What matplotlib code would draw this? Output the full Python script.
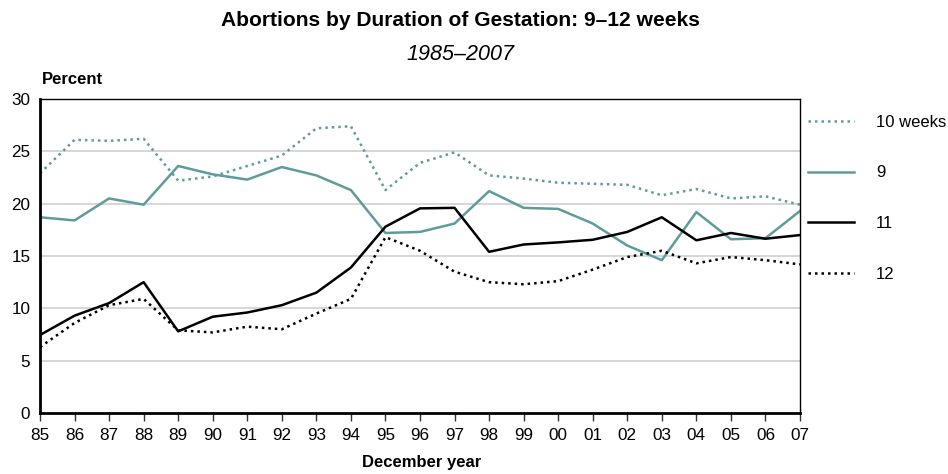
import matplotlib
matplotlib.use("Agg")
import matplotlib.pyplot as plt

plt.rcParams['font.family'] = ['Liberation Sans', 'DejaVu Sans']

years = ["85", "86", "87", "88", "89", "90", "91", "92", "93", "94", "95", "96",
         "97", "98", "99", "00", "01", "02", "03", "04", "05", "06", "07"]
w10 = [22.9, 26.1, 26.0, 26.2, 22.2, 22.6, 23.6, 24.6, 27.2, 27.4, 21.3, 23.9,
       24.9, 22.7, 22.4, 22.0, 21.9, 21.8, 20.8, 21.4, 20.5, 20.7, 19.9]
w9 = [18.7, 18.4, 20.5, 19.9, 23.6, 22.8, 22.3, 23.5, 22.7, 21.3, 17.2, 17.3,
      18.1, 21.2, 19.6, 19.5, 18.1, 16.0, 14.6, 19.2, 16.6, 16.7, 19.3]
w11 = [7.45, 9.3, 10.5, 12.5, 7.8, 9.2, 9.6, 10.3, 11.5, 13.9, 17.8, 19.55,
       19.6, 15.4, 16.1, 16.3, 16.55, 17.3, 18.7, 16.5, 17.2, 16.65, 17.0]
w12 = [6.3, 8.6, 10.3, 10.9, 7.9, 7.7, 8.25, 8.0, 9.5, 10.9, 16.8, 15.5,
       13.5, 12.5, 12.3, 12.6, 13.7, 14.9, 15.5, 14.3, 14.9, 14.6, 14.2]
labels = ["10 weeks", "9", "11", "12"]

teal = "#5f9b9b"
fig = plt.figure(figsize=(9.48, 4.74), dpi=100)
ax = fig.add_axes([40/948, 1-413/474, 760/948, 314/474])
x = list(range(len(years)))

ax.plot(x, w10, color=teal, lw=1.8, ls=(0, (1, 1.6)), label=labels[0])
ax.plot(x, w9, color=teal, lw=1.8, label=labels[1])
ax.plot(x, w11, color="black", lw=1.8, label=labels[2])
ax.plot(x, w12, color="black", lw=1.8, ls=(0, (1, 1.6)), label=labels[3])

ax.set_xlim(0, len(years)-1)
ax.set_ylim(0, 30)
ax.set_xticks(x)
ax.set_xticklabels(years)
ax.set_yticks(range(0, 31, 5))
for v in range(5, 30, 5):
    ax.axhline(v, color="#d3d3d3", lw=1.3, zorder=0)
ax.tick_params(axis='x', length=6, width=1, color="#333333", labelsize=12.3, pad=5)
ax.tick_params(axis='y', length=0, labelsize=12.3, pad=7)
ax.spines['left'].set_linewidth(2)
ax.spines['bottom'].set_linewidth(2)
ax.spines['top'].set_linewidth(1)
ax.spines['right'].set_linewidth(1)

fig.text(42/948, 1-80/474, "Percent", fontsize=12, fontweight='bold', ha='left', va='center')
fig.text(422/948, 1-462/474, "December year", fontsize=12, fontweight='bold', ha='center', va='center')
fig.text(460/948, 1-21/474, "Abortions by Duration of Gestation: 9\u201312 weeks",
         fontsize=15.1, fontweight='bold', ha='center', va='center')
fig.text(460/948, 1-55/474, "1985\u20132007", fontsize=15.5, style='italic', ha='center', va='center')

leg = ax.legend(loc='upper left', bbox_to_anchor=(761/760, 1-9/314), frameon=False,
                fontsize=12, handlelength=2.75, handletextpad=1.35, labelspacing=2.15,
                borderaxespad=0)

fig.savefig("out.png", dpi=100)
